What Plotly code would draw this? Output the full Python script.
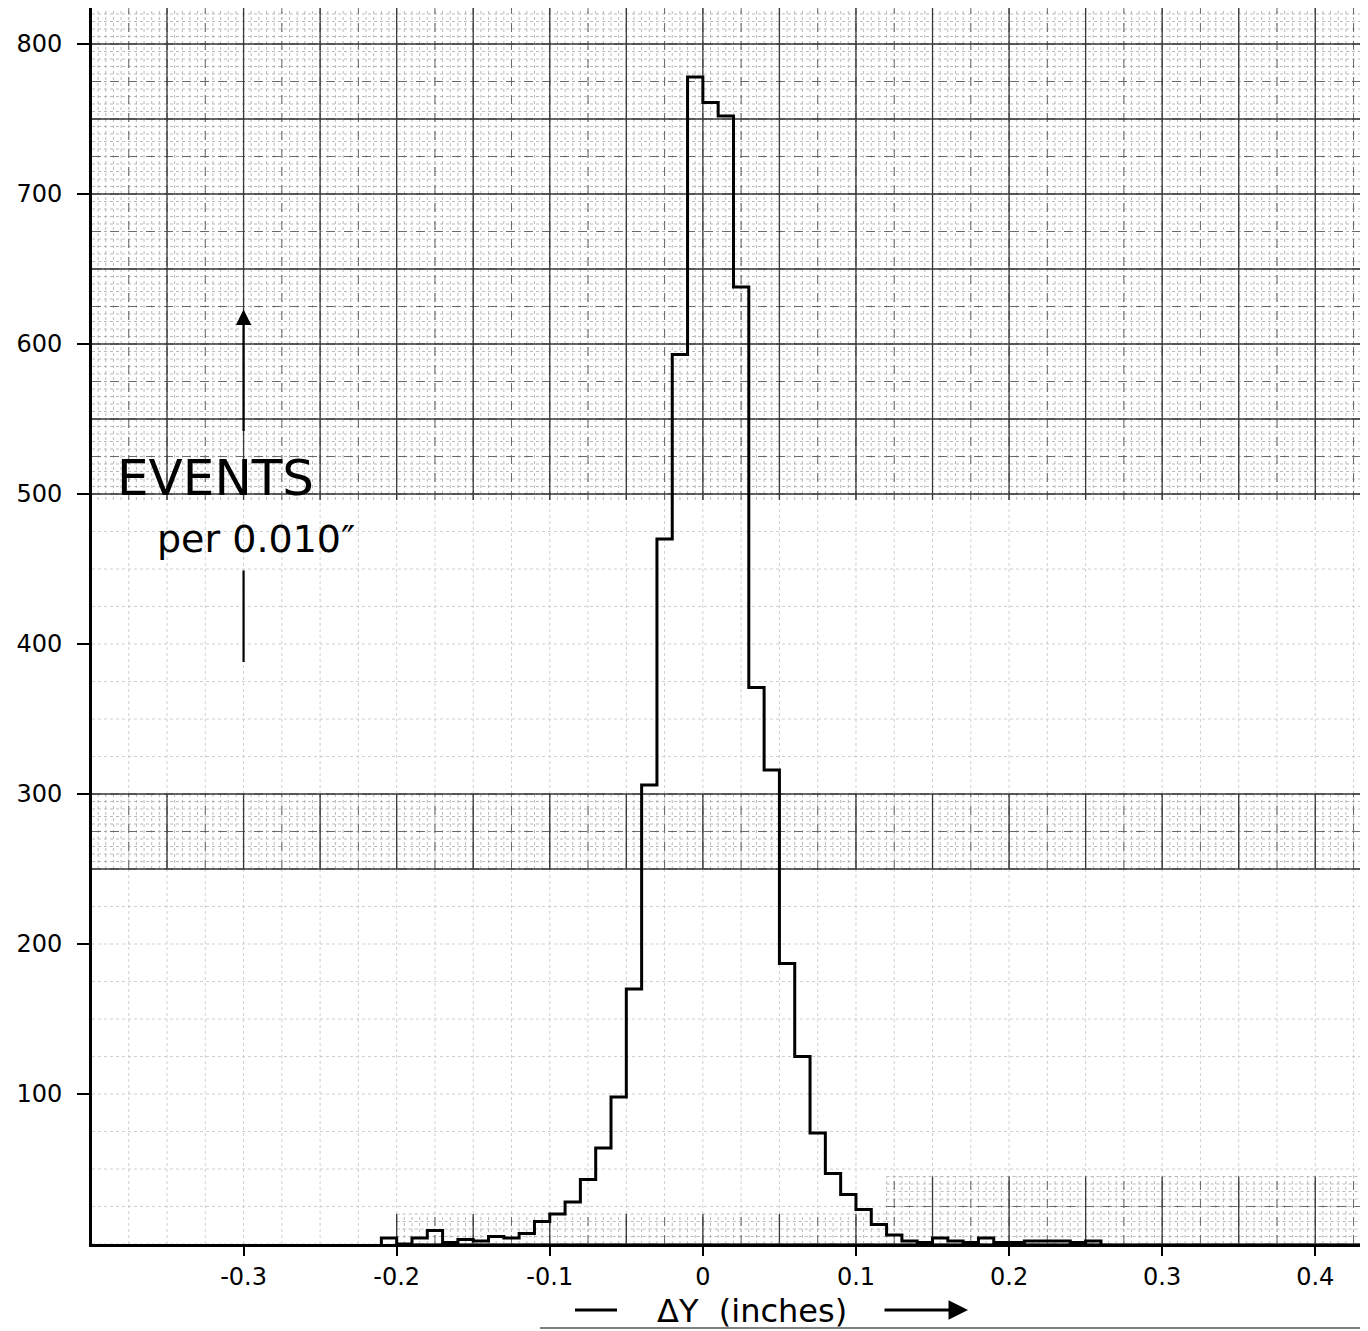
import numpy as np
import plotly.graph_objects as go

# ---- data (events per 0.010") ----
bin_left_edges = [-0.21, -0.20, -0.19, -0.18, -0.17, -0.16, -0.15, -0.14, -0.13, -0.12,
                  -0.11, -0.10, -0.09, -0.08, -0.07, -0.06, -0.05, -0.04, -0.03, -0.02,
                  -0.01, 0.00, 0.01, 0.02, 0.03, 0.04, 0.05, 0.06, 0.07, 0.08,
                  0.09, 0.10, 0.11, 0.12, 0.13, 0.14, 0.15, 0.16, 0.17, 0.18,
                  0.19, 0.20, 0.21, 0.22, 0.23, 0.24, 0.25]
events = [4, 0, 4, 9, 1, 3, 2, 5, 4, 7,
          15, 20, 28, 43, 64, 98, 170, 306, 470, 593,
          778, 761, 752, 638, 371, 316, 187, 125, 74, 47,
          33, 23, 13, 6, 2, 1, 4, 2, 1, 4,
          1, 1, 2, 2, 2, 1, 2]
bin_width = 0.01

x_tick_vals = [-0.3, -0.2, -0.1, 0, 0.1, 0.2, 0.3, 0.4]
x_tick_text = ["-0.3", "-0.2", "-0.1", "0", "0.1", "0.2", "0.3", "0.4"]
y_tick_vals = [100, 200, 300, 400, 500, 600, 700, 800]
y_tick_text = ["100", "200", "300", "400", "500", "600", "700", "800"]

# ---- geometry (page has an 8px body margin) ----
OFF = 8
W, H = 1360, 1323
ML, MR, MT, MB = 84, 0, 0, 87
PX_PER_X = 1531.0
PX_PER_Y = 1.5
X0 = -0.399
X1 = X0 + (W - ML - MR) / PX_PER_X
Y0 = 0.0
Y1 = (H - MT - MB) / PX_PER_Y

FONT = "DejaVu Sans"


def grid_segments(xa, xb, ya, yb, dx, dy):
    xs, ys = [], []
    for gx in np.arange(np.ceil(xa / dx) * dx, xb + 1e-9, dx):
        xs += [gx, gx, None]
        ys += [ya, yb, None]
    for gy in np.arange(np.ceil(ya / dy) * dy, yb + 1e-9, dy):
        xs += [xa, xb, None]
        ys += [gy, gy, None]
    return xs, ys


fig = go.Figure()

# sparse graph-paper grid over the whole plot
gx, gy = grid_segments(X0, X1, Y0, Y1, 0.025, 25)
fig.add_trace(go.Scatter(x=gx, y=gy, mode="lines", hoverinfo="skip", showlegend=False,
                         line=dict(color="#cfcfcf", width=1, dash="dot")))

# dense graph-paper bands (as they appear on the scanned sheet)
bands = [
    (X0, X1, 496, Y1),
    (X0, X1, 250, 300),
    (0.12, X1, 0, 45),
    (-0.20, 0.12, 0, 20),
]
for (xa, xb, ya, yb) in bands:
    fx, fy = grid_segments(xa, xb, ya, yb, 0.005, 5)
    fig.add_trace(go.Scatter(x=fx, y=fy, mode="lines", hoverinfo="skip", showlegend=False,
                             line=dict(color="#a8a8a8", width=0.8, dash="dot")))
    mx, my = grid_segments(xa, xb, ya, yb, 0.025, 25)
    fig.add_trace(go.Scatter(x=mx, y=my, mode="lines", hoverinfo="skip", showlegend=False,
                             line=dict(color="#6a6a6a", width=1, dash="dash")))
    Mx, My = grid_segments(xa, xb, ya, yb, 0.05, 50)
    fig.add_trace(go.Scatter(x=Mx, y=My, mode="lines", hoverinfo="skip", showlegend=False,
                             line=dict(color="#3a3a3a", width=1.3)))

# histogram outline
edges = list(bin_left_edges) + [bin_left_edges[-1] + bin_width]
hx = [edges[0]] + edges
hy = [0] + list(events) + [0]
fig.add_trace(go.Scatter(x=hx, y=hy, mode="lines", line_shape="hv", hoverinfo="skip",
                         showlegend=False, line=dict(color="black", width=3)))

# vertical arrow beside "EVENTS"
fig.add_annotation(x=-0.3, y=623, ax=-0.3, ay=541, xref="x", yref="y", axref="x", ayref="y",
                   text="", showarrow=True, arrowhead=2, arrowsize=1.4, arrowwidth=2.2,
                   arrowcolor="black")
fig.add_shape(type="line", x0=-0.3, x1=-0.3, y0=388, y1=449, xref="x", yref="y",
              line=dict(color="black", width=2.2))

fig.add_annotation(x=-0.384, y=511, xref="x", yref="y", text="EVENTS", showarrow=False,
                   xanchor="left", yanchor="middle", font=dict(family=FONT, size=50, color="black"))
fig.add_annotation(x=-0.358, y=470, xref="x", yref="y", text="per 0.010\u2033", showarrow=False,
                   xanchor="left", yanchor="middle", font=dict(family=FONT, size=38, color="black"))


# x-axis title with hand-drawn style dash and arrow (positions in reference pixels)
def px_x(p):
    return (p - OFF - ML) / (W - ML - MR)


def px_y(p):
    return (H - MB - (p - OFF)) / (H - MT - MB)


fig.add_annotation(x=px_x(752), y=px_y(1311), xref="paper", yref="paper",
                   text="\u0394Y  (inches)", showarrow=False, xanchor="center", yanchor="middle",
                   font=dict(family=FONT, size=32, color="black"))
fig.add_shape(type="line", xref="paper", yref="paper", x0=px_x(575), x1=px_x(617),
              y0=px_y(1310), y1=px_y(1310), line=dict(color="black", width=3))
fig.add_annotation(x=px_x(968), y=px_y(1310), xref="paper", yref="paper", ax=-85, ay=0,
                   text="", showarrow=True, arrowhead=2, arrowsize=1.3, arrowwidth=3,
                   arrowcolor="black")
fig.add_shape(type="line", xref="paper", yref="paper", x0=px_x(540), x1=px_x(1368),
              y0=px_y(1328), y1=px_y(1328), line=dict(color="#555555", width=1.5))

fig.update_layout(
    width=W, height=H,
    margin=dict(l=ML, r=MR, t=MT, b=MB),
    paper_bgcolor="white", plot_bgcolor="white",
    font=dict(family=FONT, color="black"),
    showlegend=False,
)
fig.update_xaxes(range=[X0, X1], showgrid=False, zeroline=False,
                 tickmode="array", tickvals=x_tick_vals, ticktext=x_tick_text,
                 ticks="outside", ticklen=9, tickwidth=2, tickcolor="black",
                 showline=True, linecolor="black", linewidth=3,
                 tickfont=dict(family=FONT, size=24, color="black"))
fig.update_yaxes(range=[Y0, Y1], showgrid=False, zeroline=False,
                 tickmode="array", tickvals=y_tick_vals, ticktext=y_tick_text,
                 ticks="outside", ticklen=12, tickwidth=2, tickcolor="black",
                 ticklabelstandoff=10,
                 showline=True, linecolor="black", linewidth=3,
                 tickfont=dict(family=FONT, size=24, color="black"))

fig.write_html("out.html")
